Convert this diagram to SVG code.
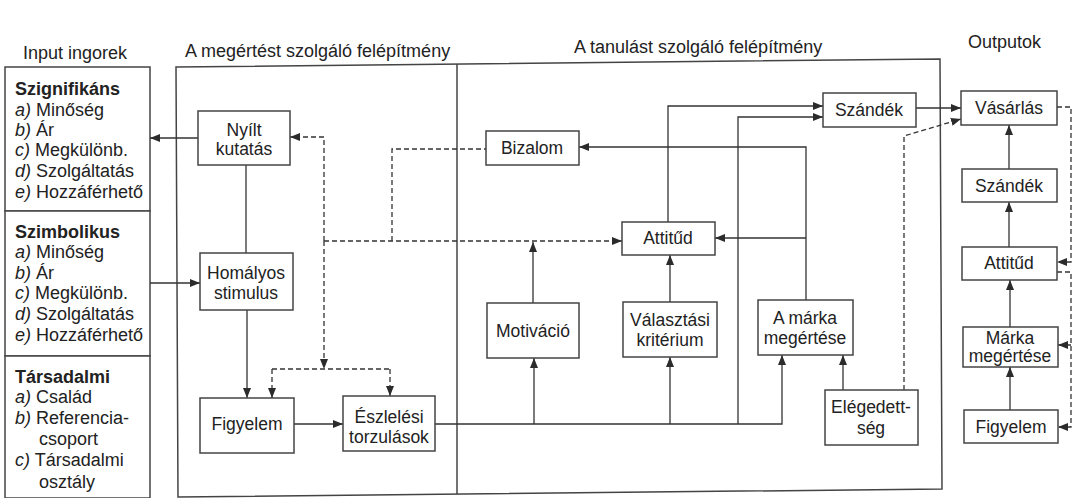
<svg xmlns="http://www.w3.org/2000/svg" width="1074" height="498" viewBox="0 0 1074 498">
<defs>
<marker id="ah" viewBox="0 0 10 8" refX="10" refY="4" markerWidth="10" markerHeight="8" markerUnits="userSpaceOnUse" orient="auto">
<path d="M0,0 L10,4 L0,8 z" fill="#2b2b2b"/>
</marker>
<style>
.box{fill:#fff;stroke:#444;stroke-width:1.5}
.frame{fill:none;stroke:#444;stroke-width:1.5}
.ln{fill:none;stroke:#333;stroke-width:1.3}
.ar{fill:none;stroke:#333;stroke-width:1.3;marker-end:url(#ah)}
.ds{fill:none;stroke:#333;stroke-width:1.3;stroke-dasharray:5 3}
.dsa{fill:none;stroke:#333;stroke-width:1.3;stroke-dasharray:5 3;marker-end:url(#ah)}
text{font-family:"Liberation Sans",Arial,sans-serif;fill:#222}
.h{font-size:18px}
.t{font-size:17.5px;text-anchor:middle}
.l{font-size:18px}
.b{font-weight:bold}
.i{font-style:italic}
</style>
</defs>
<rect width="1074" height="498" fill="#fff"/>

<g id="headings">
<text class="h" x="23" y="59">Input ingorek</text>
<text class="h" x="185" y="57">A megértést szolgáló felépítmény</text>
<text class="h" x="574" y="53">A tanulást szolgáló felépítmény</text>
<text class="h" x="968" y="48">Outputok</text>
</g>

<g id="frames">
<polygon class="frame" points="176,67 940,59 942,489 178,497"/>
<line class="frame" x1="457" y1="64" x2="457" y2="494"/>
</g>

<g id="input-szignifikans">
<rect class="box" x="5" y="67" width="145" height="144"/>
<text class="l b" x="15" y="95">Szignifikáns</text>
<text class="l" x="15" y="116"><tspan class="i">a)</tspan> Minőség</text>
<text class="l" x="15" y="136"><tspan class="i">b)</tspan> Ár</text>
<text class="l" x="15" y="156"><tspan class="i">c)</tspan> Megkülönb.</text>
<text class="l" x="15" y="177"><tspan class="i">d)</tspan> Szolgáltatás</text>
<text class="l" x="15" y="198"><tspan class="i">e)</tspan> Hozzáférhető</text>
</g>
<g id="input-szimbolikus">
<rect class="box" x="5" y="211" width="145" height="145"/>
<text class="l b" x="15" y="238">Szimbolikus</text>
<text class="l" x="15" y="258"><tspan class="i">a)</tspan> Minőség</text>
<text class="l" x="15" y="279"><tspan class="i">b)</tspan> Ár</text>
<text class="l" x="15" y="299"><tspan class="i">c)</tspan> Megkülönb.</text>
<text class="l" x="15" y="320"><tspan class="i">d)</tspan> Szolgáltatás</text>
<text class="l" x="15" y="341"><tspan class="i">e)</tspan> Hozzáférhető</text>
</g>
<g id="input-tarsadalmi">
<rect class="box" x="5" y="356" width="145" height="142"/>
<text class="l b" x="15" y="383">Társadalmi</text>
<text class="l" x="15" y="403"><tspan class="i">a)</tspan> Család</text>
<text class="l" x="15" y="424"><tspan class="i">b)</tspan> Referencia-</text>
<text class="l" x="39" y="445">csoport</text>
<text class="l" x="15" y="466"><tspan class="i">c)</tspan> Társadalmi</text>
<text class="l" x="39" y="488">osztály</text>
</g>

<g id="connectors">
<path class="ar" d="M198,138 L150,138"/>
<path class="ar" d="M150,283 L200,283"/>
<path class="ln" d="M246,165 L246,253"/>
<path class="ar" d="M247,310 L247,398"/>
<path class="ar" d="M294,424 L343,424"/>
<path class="dsa" d="M324,241 L324,137 L290,137"/>
<path class="dsa" d="M324,241 L324,369"/>
<path class="ds" d="M272,369 L390,369"/>
<path class="dsa" d="M272,369 L272,398"/>
<path class="dsa" d="M390,369 L390,396"/>
<path class="dsa" d="M324,241 L622,241"/>
<path class="ds" d="M392,241 L392,149 L486,149"/>
<path class="ar" d="M533,303 L533,242"/>
<path class="ar" d="M435,424 L782,424 L782,355"/>
<path class="ar" d="M534,424 L534,358"/>
<path class="ar" d="M670,424 L670,357"/>
<path class="ar" d="M738,424 L738,117 L823,117"/>
<path class="ar" d="M670,302 L670,255"/>
<path class="ar" d="M668,222 L668,106 L823,106"/>
<path class="ar" d="M806,300 L806,147 L579,147"/>
<path class="ar" d="M806,238 L715,238"/>
<path class="ar" d="M843,390 L843,355"/>
<path class="dsa" d="M904,390 L904,136 L961,119"/>
<path class="ar" d="M916,108 L961,108"/>
<path class="ar" d="M1009,169 L1009,125"/>
<path class="ar" d="M1009,247 L1009,202"/>
<path class="ar" d="M1010,327 L1010,280"/>
<path class="ar" d="M1010,410 L1010,367"/>
<path class="dsa" d="M1057,107 L1071,107 L1071,262 L1057,262"/>
<path class="dsa" d="M1057,272 L1071,272 L1071,427 L1058,427"/>
<path class="dsa" d="M1071,345 L1058,345"/>
</g>

<g id="nyilt-kutatas">
<rect class="box" x="198" y="111" width="92" height="54"/>
<text class="t" x="244" y="136">Nyílt</text>
<text class="t" x="244" y="155">kutatás</text>
</g>
<g id="homalyos-stimulus">
<rect class="box" x="200" y="253" width="93" height="57"/>
<text class="t" x="246" y="279">Homályos</text>
<text class="t" x="246" y="299">stimulus</text>
</g>
<g id="figyelem">
<rect class="box" x="200" y="398" width="94" height="55"/>
<text class="t" x="247" y="430">Figyelem</text>
</g>
<g id="eszlelesi-torzulasok">
<rect class="box" x="343" y="396" width="92" height="55"/>
<text class="t" x="389" y="423">Észlelési</text>
<text class="t" x="389" y="443">torzulások</text>
</g>
<g id="bizalom">
<rect class="box" x="486" y="131" width="93" height="34"/>
<text class="t" x="532" y="154">Bizalom</text>
</g>
<g id="attitud">
<rect class="box" x="622" y="222" width="93" height="33"/>
<text class="t" x="668" y="244">Attitűd</text>
</g>
<g id="motivacio">
<rect class="box" x="487" y="303" width="92" height="55"/>
<text class="t" x="533" y="337">Motiváció</text>
</g>
<g id="valasztasi-kriterium">
<rect class="box" x="623" y="302" width="94" height="55"/>
<text class="t" x="670" y="326">Választási</text>
<text class="t" x="670" y="346">kritérium</text>
</g>
<g id="marka-megertese">
<rect class="box" x="758" y="300" width="95" height="55"/>
<text class="t" x="805" y="324">A márka</text>
<text class="t" x="805" y="344">megértése</text>
</g>
<g id="elegedettseg">
<rect class="box" x="825" y="390" width="93" height="55"/>
<text class="t" x="871" y="413">Elégedett-</text>
<text class="t" x="871" y="434">ség</text>
</g>
<g id="szandek">
<rect class="box" x="823" y="93" width="93" height="34"/>
<text class="t" x="869" y="116">Szándék</text>
</g>
<g id="out-vasarlas">
<rect class="box" x="961" y="91" width="96" height="34"/>
<text class="t" x="1009" y="114">Vásárlás</text>
</g>
<g id="out-szandek">
<rect class="box" x="962" y="169" width="95" height="33"/>
<text class="t" x="1009" y="192">Szándék</text>
</g>
<g id="out-attitud">
<rect class="box" x="962" y="247" width="95" height="33"/>
<text class="t" x="1009" y="269">Attitűd</text>
</g>
<g id="out-marka-megertese">
<rect class="box" x="963" y="327" width="95" height="40"/>
<text class="t" x="1010" y="344">Márka</text>
<text class="t" x="1010" y="362">megértése</text>
</g>
<g id="out-figyelem">
<rect class="box" x="964" y="410" width="94" height="33"/>
<text class="t" x="1011" y="433">Figyelem</text>
</g>
</svg>
